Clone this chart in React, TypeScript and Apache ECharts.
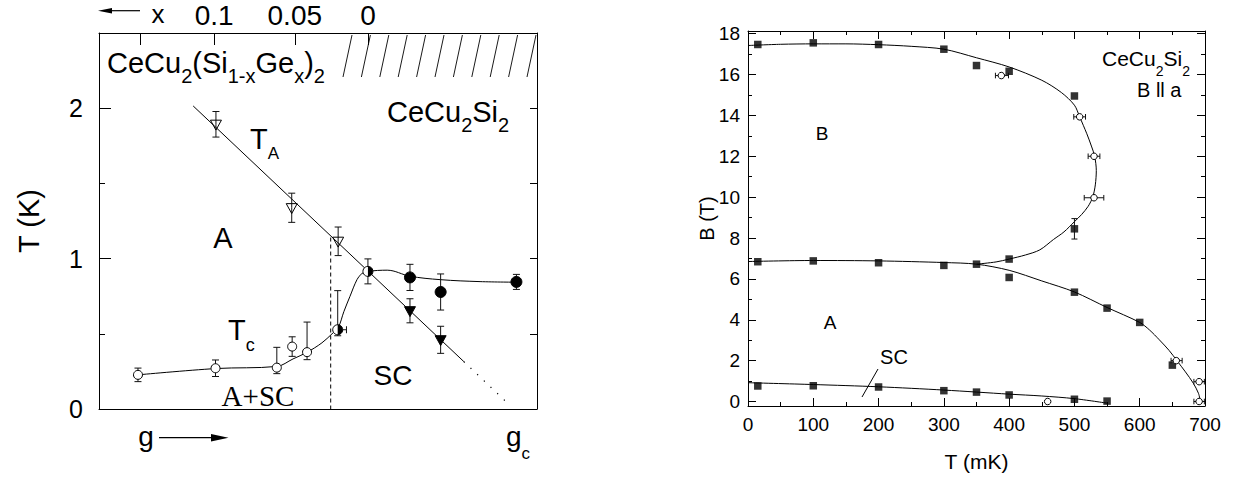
import React, { useEffect, useRef } from 'react';
import * as echarts from 'echarts';

// ================= Left panel: T (K) vs g =================
// [g, T, errUp, errDown, errLeft, errRight]
const tcOpen = [
  [0.89, 0.227, 0.045, 0.045, 0, 0],
  [2.66, 0.271, 0.055, 0.055, 0, 0],
  [4.06, 0.275, 0.135, 0.04, 0, 0],
  [4.41, 0.415, 0.065, 0.065, 0, 0],
  [4.75, 0.378, 0.2, 0.05, 0, 0],
];
const tcHalf = [
  [5.45, 0.527, 0.26, 0.04, 0, 0.2],
  [6.14, 0.915, 0.083, 0.083, 0, 0],
];
const tcFilled = [
  [7.1, 0.875, 0.087, 0.087, 0, 0],
  [7.8, 0.778, 0.12, 0.12, 0, 0],
  [9.53, 0.845, 0.05, 0.05, 0, 0],
];
const taOpen = [
  [2.67, 1.893, 0.085, 0.085, 0, 0],
  [4.4, 1.338, 0.097, 0.097, 0, 0],
  [5.46, 1.115, 0.095, 0.095, 0, 0],
];
const taFilled = [
  [7.1, 0.653, 0.08, 0.08, 0, 0],
  [7.8, 0.46, 0.09, 0.09, 0, 0],
];
const tcCurve = [
  [0.89, 0.227], [2.67, 0.269], [4.06, 0.283], [4.43, 0.333], [4.75, 0.377],
  [5.09, 0.44], [5.32, 0.5], [5.46, 0.54], [5.59, 0.647], [5.73, 0.749],
  [5.89, 0.86], [6.0, 0.9], [6.14, 0.915], [6.58, 0.923], [7.1, 0.883],
  [7.79, 0.86], [8.7, 0.847], [9.54, 0.843],
];
const taLine = [[2.15, 2.015], [8.33, 0.315]];
const taExtrap = [[8.33, 0.315], [9.36, 0.03]];
const boundaryLine = [[5.29, 1.14], [5.29, 0]];
const leftYLabels = [0, 1, 2];
const leftYMajor = [1, 2];
const leftYMinor = [0.5, 1.5];
const xCompTicks = [0.95, 2.63, 4.47, 6.14];
const xCompLabelPos = [2.63, 4.47, 6.14];
const xCompLabels = ['0.1', '0.05', '0'];

// ================= Right panel: B (T) vs T (mK) =================
const squaresUpper = [[15, 17.47], [100, 17.55], [200, 17.47], [300, 17.24], [350, 16.44], [400, 16.16], [500, 14.95], [500, 8.45]];
const squaresLower = [[15, 6.84], [100, 6.88], [200, 6.79], [300, 6.66], [350, 6.72], [400, 6.97], [400, 6.07], [500, 5.35], [550, 4.57], [600, 3.87], [650, 1.78]];
const squaresSC = [[15, 0.76], [100, 0.77], [200, 0.71], [300, 0.53], [350, 0.46], [400, 0.32], [500, 0.11], [550, 0.02]];
// [T, B, errUp, errDown, errLeft, errRight]
const circlesOpen = [
  [388, 15.95, 0, 0, 9, 11],
  [508, 13.93, 0, 0, 9, 9],
  [530, 12.0, 0, 0, 9, 9],
  [530, 9.97, 0, 0, 15, 15],
  [656, 2.0, 0, 0, 8, 9],
  [691, 0.97, 0, 0, 8, 8],
  [691, 0, 0, 0, 8, 8],
  [459, 0, 0, 0, 0, 0],
];
const squareErr = [[500, 8.45, 0.5, 0.5, 0, 0]];
const domeCurve = [
  [0, 17.42], [50, 17.48], [100, 17.5], [150, 17.5], [200, 17.46], [250, 17.38], [300, 17.24],
  [350, 16.82], [400, 16.37], [450, 15.72], [480, 15.12], [500, 14.5], [508, 13.93], [519, 13.1],
  [526, 12.5], [531, 12.0], [533.5, 11.3], [532, 10.6], [528, 10.0], [521, 9.55], [511, 9.15],
  [500, 8.8], [484, 8.3], [468, 7.93], [447, 7.42], [425, 7.17], [400, 6.97], [380, 6.83], [350, 6.72],
];
const lowerCurve = [
  [0, 6.85], [100, 6.9], [200, 6.88], [300, 6.8], [350, 6.72], [400, 6.42], [450, 5.9],
  [500, 5.36], [550, 4.6], [600, 3.87], [615, 3.5], [630, 3.02], [645, 2.5], [657, 2.0],
  [670, 1.45], [682, 0.9], [690, 0.4], [693, 0],
];
const scCurve = [[0, 0.92], [100, 0.83], [200, 0.72], [300, 0.56], [400, 0.36], [450, 0.27], [500, 0.14], [550, -0.08]];
const rightYMajor = [0, 2, 4, 6, 8, 10, 12, 14, 16, 18];
const rightYMinor = [1, 3, 5, 7, 9, 11, 13, 15, 17];

const FONT = "'Liberation Sans', Arial, Helvetica, sans-serif";
const SERIF = "'Liberation Serif', 'Times New Roman', serif";
const K = '#000';

function makeRenderer(kind: string, size: number, cap: number) {
  return (_params: any, api: any) => {
    const x = api.value(0), y = api.value(1);
    const up = api.value(2) || 0, dn = api.value(3) || 0, lf = api.value(4) || 0, rt = api.value(5) || 0;
    const c = api.coord([x, y]);
    const ls = { stroke: '#111', lineWidth: 1 };
    const ch: any[] = [];
    const seg = (x1: number, y1: number, x2: number, y2: number) =>
      ch.push({ type: 'line', shape: { x1, y1, x2, y2 }, style: ls });
    if (up > 0) { const p = api.coord([x, y + up]); seg(c[0], c[1], p[0], p[1]); seg(p[0] - cap, p[1], p[0] + cap, p[1]); }
    if (dn > 0) { const p = api.coord([x, y - dn]); seg(c[0], c[1], p[0], p[1]); seg(p[0] - cap, p[1], p[0] + cap, p[1]); }
    if (lf > 0) { const p = api.coord([x - lf, y]); seg(c[0], c[1], p[0], p[1]); seg(p[0], p[1] - cap, p[0], p[1] + cap); }
    if (rt > 0) { const p = api.coord([x + rt, y]); seg(c[0], c[1], p[0], p[1]); seg(p[0], p[1] - cap, p[0], p[1] + cap); }
    const r = size / 2;
    const [cx, cy] = c;
    if (kind === 'circle-open') {
      ch.push({ type: 'circle', shape: { cx, cy, r }, style: { fill: '#fff', stroke: K, lineWidth: 1 } });
    } else if (kind === 'circle-filled') {
      ch.push({ type: 'circle', shape: { cx, cy, r }, style: { fill: K, stroke: K, lineWidth: 1 } });
    } else if (kind === 'circle-half') {
      ch.push({ type: 'circle', shape: { cx, cy, r }, style: { fill: '#fff', stroke: K, lineWidth: 1 } });
      ch.push({ type: 'sector', shape: { cx, cy, r, r0: 0, startAngle: -Math.PI / 2, endAngle: Math.PI / 2, clockwise: true }, style: { fill: K } });
    } else if (kind === 'tri-open' || kind === 'tri-filled') {
      ch.push({
        type: 'polygon',
        shape: { points: [[cx - r, cy - r * 0.75], [cx + r, cy - r * 0.75], [cx, cy + r * 1.05]] },
        style: { fill: kind === 'tri-filled' ? K : 'none', stroke: K, lineWidth: 1 },
      });
    }
    return { type: 'group', children: ch };
  };
}

function markerSeries(data: number[][], kind: string, size: number, cap: number, xi: number, yi: number) {
  return {
    type: 'custom', xAxisIndex: xi, yAxisIndex: yi, data, silent: true, z: 5,
    encode: { x: 0, y: 1 }, renderItem: makeRenderer(kind, size, cap),
  };
}

function lineSeries(data: number[][], xi: number, yi: number, extra: any = {}) {
  return {
    type: 'line', xAxisIndex: xi, yAxisIndex: yi, data, showSymbol: false, symbol: 'none', silent: true,
    lineStyle: { color: K, width: 1, ...(extra.lineStyle || {}) }, smooth: extra.smooth || false, z: 3,
  };
}

const axisLineStyle = { show: true, onZero: false, lineStyle: { color: K, width: 1 } };
const noLine = { show: false, onZero: false };
const lbl = (fontSize: number, margin: number, extra: any = {}) => ({
  show: true, fontSize, margin, fontFamily: FONT, color: K, ...extra,
});

function richSub(x: number, y: number, parts: string, main: number, sub: number, pad: number) {
  return {
    type: 'text', x, y, silent: true,
    style: {
      text: parts, textAlign: 'left', textVerticalAlign: 'middle', fill: K,
      rich: {
        m: { fontSize: main, fontFamily: FONT, fill: K, color: K },
        s: { fontSize: sub, fontFamily: FONT, fill: K, color: K, padding: [pad, 0, 0, 0] },
      },
    },
  };
}
function txt(x: number, y: number, text: string, fontSize: number, family = FONT, align = 'center') {
  return {
    type: 'text', x, y, silent: true,
    style: { text, fontSize, fontFamily: family, fill: K, textAlign: align, textVerticalAlign: 'middle' },
  };
}

export default function App() {
  const ref = useRef<HTMLDivElement>(null);
  useEffect(() => {
    if (!ref.current) return;
    const chart = echarts.init(ref.current, null, { renderer: 'svg' });

    const LG = { left: 99, top: 33, width: 438, height: 376 };
    const RG = { left: 748, top: 31, width: 457, height: 375 };

    const hatch: any[] = [];
    for (let x = 352; x <= LG.left + LG.width + 0.5; x += 18.4) {
      hatch.push({ type: 'line', silent: true, shape: { x1: x, y1: LG.top + 2, x2: x - 9, y2: LG.top + 44 }, style: { stroke: K, lineWidth: 0.9 } });
    }

    const graphic: any[] = [
      ...hatch,
      // x arrow (top-left)
      { type: 'line', silent: true, shape: { x1: 140, y1: 10.7, x2: 108, y2: 10.7 }, style: { stroke: K, lineWidth: 1.2 } },
      { type: 'polygon', silent: true, shape: { points: [[98, 10.7], [112, 8], [112, 13.4]] }, style: { fill: K } },
      txt(158, 14, 'x', 26),
      // g arrow (bottom-left)
      txt(146, 436, 'g', 28),
      { type: 'line', silent: true, shape: { x1: 159, y1: 437.7, x2: 215, y2: 437.7 }, style: { stroke: K, lineWidth: 1.2 } },
      { type: 'polygon', silent: true, shape: { points: [[228.5, 437.7], [211, 434], [211, 441.4]] }, style: { fill: K } },
      richSub(506, 436, '{m|g}{s|c}', 28, 17, 34),
      // left panel labels
      richSub(107, 63, '{m|CeCu}{s|2}{m|(Si}{s|1-x}{m|Ge}{s|x}{m|)}{s|2}', 29, 20, 26),
      richSub(387, 112, '{m|CeCu}{s|2}{m|Si}{s|2}', 29, 20, 26),
      richSub(250, 139, '{m|T}{s|A}', 29, 17, 28),
      richSub(228, 330, '{m|T}{s|c}', 29, 18, 30),
      txt(223, 238, 'A', 29),
      txt(258, 396, 'A+SC', 29, SERIF),
      txt(393, 375, 'SC', 28),
      // right panel labels
      richSub(1102, 58, '{m|CeCu}{s|2}{m|Si}{s|2}', 21, 14, 26),
      txt(1137, 90, 'B ll a', 20, FONT, 'left'),
      txt(822, 133, 'B', 19),
      txt(830, 322, 'A', 19),
      txt(894, 357, 'SC', 20),
      { type: 'line', silent: true, shape: { x1: 878, y1: 369, x2: 862, y2: 397 }, style: { stroke: K, lineWidth: 1 } },
    ];

    const option: any = {
      animation: false,
      backgroundColor: '#fff',
      textStyle: { fontFamily: FONT },
      grid: [
        { ...LG, containLabel: false, outerBoundsMode: 'none' },
        { ...RG, containLabel: false, outerBoundsMode: 'none' },
      ],
      xAxis: [
        // 0: left bottom (g)
        { type: 'value', gridIndex: 0, min: 0, max: 10, position: 'bottom', axisLine: axisLineStyle, axisTick: { show: false }, axisLabel: { show: false }, splitLine: { show: false } },
        // 1: left top (x composition)
        {
          type: 'value', gridIndex: 0, min: 0, max: 10, position: 'top', axisLine: axisLineStyle,
          axisTick: { show: true, inside: true, length: 12, customValues: xCompTicks, lineStyle: { color: K } },
          axisLabel: lbl(28, 4, {
            customValues: xCompLabelPos,
            formatter: (v: number) => {
              const i = xCompLabelPos.findIndex((p) => Math.abs(p - v) < 1e-6);
              return i >= 0 ? xCompLabels[i] : '';
            },
          }),
          splitLine: { show: false },
        },
        // 2: right bottom (T mK)
        {
          type: 'value', gridIndex: 1, min: 0, max: 700, interval: 100, position: 'bottom', axisLine: axisLineStyle,
          axisTick: { show: true, inside: true, length: 8, lineStyle: { color: K } },
          minorTick: { show: true, splitNumber: 2, length: 4, lineStyle: { color: K } },
          axisLabel: lbl(19, 9), splitLine: { show: false },
          name: 'T (mK)', nameLocation: 'middle', nameGap: 45, nameMoveOverlap: false,
          nameTextStyle: { fontSize: 21, fontFamily: FONT, color: K },
        },
        // 3: right top
        {
          type: 'value', gridIndex: 1, min: 0, max: 700, interval: 100, position: 'top', axisLine: axisLineStyle,
          axisTick: { show: true, inside: true, length: 8, lineStyle: { color: K } },
          minorTick: { show: true, splitNumber: 2, length: 4, lineStyle: { color: K } },
          axisLabel: { show: false }, splitLine: { show: false },
        },
      ],
      yAxis: [
        // 0: left panel left (major + labels)
        {
          type: 'value', gridIndex: 0, min: 0, max: 2.5, position: 'left', axisLine: axisLineStyle,
          axisTick: { show: true, inside: true, length: 12, customValues: leftYMajor, lineStyle: { color: K } },
          axisLabel: lbl(25, 16, { customValues: leftYLabels }), splitLine: { show: false },
          name: 'T (K)', nameLocation: 'middle', nameGap: 56, nameMoveOverlap: false,
          nameTextStyle: { fontSize: 29, fontFamily: FONT, color: K },
        },
        // 1: left panel left minor
        {
          type: 'value', gridIndex: 0, min: 0, max: 2.5, position: 'left', axisLine: noLine,
          axisTick: { show: true, inside: true, length: 6, customValues: leftYMinor, lineStyle: { color: K } },
          axisLabel: { show: false }, splitLine: { show: false },
        },
        // 2: left panel right
        {
          type: 'value', gridIndex: 0, min: 0, max: 2.5, position: 'right', axisLine: axisLineStyle,
          axisTick: { show: true, inside: true, length: 7, customValues: [...leftYMinor, ...leftYMajor], lineStyle: { color: K } },
          axisLabel: { show: false }, splitLine: { show: false },
        },
        // 3: right panel left (major + labels)
        {
          type: 'value', gridIndex: 1, min: -0.22, max: 18.13, position: 'left', axisLine: axisLineStyle,
          axisTick: { show: true, inside: true, length: 8, customValues: rightYMajor, lineStyle: { color: K } },
          axisLabel: lbl(19, 8, { customValues: rightYMajor }), splitLine: { show: false },
          name: 'B (T)', nameLocation: 'middle', nameGap: 31, nameMoveOverlap: false,
          nameTextStyle: { fontSize: 20, fontFamily: FONT, color: K },
        },
        // 4: right panel left minor
        {
          type: 'value', gridIndex: 1, min: -0.22, max: 18.13, position: 'left', axisLine: noLine,
          axisTick: { show: true, inside: true, length: 4, customValues: rightYMinor, lineStyle: { color: K } },
          axisLabel: { show: false }, splitLine: { show: false },
        },
        // 5: right panel right major
        {
          type: 'value', gridIndex: 1, min: -0.22, max: 18.13, position: 'right', axisLine: axisLineStyle,
          axisTick: { show: true, inside: true, length: 8, customValues: rightYMajor, lineStyle: { color: K } },
          axisLabel: { show: false }, splitLine: { show: false },
        },
        // 6: right panel right minor
        {
          type: 'value', gridIndex: 1, min: -0.22, max: 18.13, position: 'right', axisLine: noLine,
          axisTick: { show: true, inside: true, length: 4, customValues: rightYMinor, lineStyle: { color: K } },
          axisLabel: { show: false }, splitLine: { show: false },
        },
      ],
      series: [
        // left panel
        lineSeries(tcCurve, 0, 0, { smooth: 0.35 }),
        lineSeries(taLine, 0, 0),
        lineSeries(taExtrap, 0, 0, { lineStyle: { type: [1.2, 8], width: 1.2 } }),
        lineSeries(boundaryLine, 0, 0, { lineStyle: { type: [4, 3] } }),
        markerSeries(taOpen, 'tri-open', 11, 3.5, 0, 0),
        markerSeries(taFilled, 'tri-filled', 11, 3.5, 0, 0),
        markerSeries(tcOpen, 'circle-open', 9, 3.5, 0, 0),
        markerSeries(tcHalf, 'circle-half', 10, 3.5, 0, 0),
        markerSeries(tcFilled, 'circle-filled', 11, 3.5, 0, 0),
        // right panel
        lineSeries(domeCurve, 2, 3, { smooth: 0.3 }),
        lineSeries(lowerCurve, 2, 3, { smooth: 0.3 }),
        lineSeries(scCurve, 2, 3, { smooth: 0.3 }),
        ...[squaresUpper, squaresLower, squaresSC].map((d) => ({
          type: 'scatter', xAxisIndex: 2, yAxisIndex: 3, data: d, symbol: 'rect', symbolSize: 7.5,
          itemStyle: { color: K }, silent: true, z: 4,
        })),
        markerSeries(squareErr, 'none', 0, 3, 2, 3),
        markerSeries(circlesOpen, 'circle-open', 6.5, 2.8, 2, 3),
      ],
      graphic,
    };
    chart.setOption(option);
    return () => chart.dispose();
  }, []);

  return <div ref={ref} style={{ position: 'absolute', left: 0, top: 0, width: 1235, height: 478, background: '#fff' }} />;
}
